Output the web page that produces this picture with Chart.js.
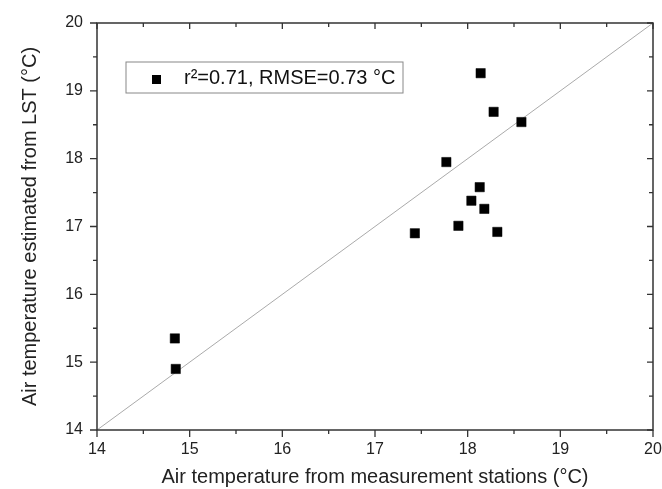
<!DOCTYPE html>
<html>
<head>
<meta charset="utf-8">
<script src="https://cdn.jsdelivr.net/npm/chart.js@4/dist/chart.umd.min.js"></script>
<style>
  html, body { margin: 0; padding: 0; background: #fff; }
  #wrap { width: 662px; height: 489px; }
</style>
</head>
<body>
<div id="wrap"><canvas id="c" width="662" height="489"></canvas></div>
<script>
// measured station temperature vs. temperature estimated from LST
const stationTemp = [14.84, 14.85, 17.43, 17.77, 17.90, 18.04, 18.13, 18.14, 18.18, 18.28, 18.32, 18.58];
const lstTemp     = [15.35, 14.90, 16.90, 17.95, 17.01, 17.38, 17.58, 19.26, 17.26, 18.69, 16.92, 18.54];
const oneToOne = [14, 20];
const axisMin = 14, axisMax = 20;
const legendLabel = "r\u00B2=0.71, RMSE=0.73 \u00B0C";
const xTitle = "Air temperature from measurement stations (\u00B0C)";
const yTitle = "Air temperature estimated from LST (\u00B0C)";

const font = "'Liberation Sans', Arial, sans-serif";

const points = stationTemp.map((x, i) => ({ x: x, y: lstTemp[i] }));
const line = oneToOne.map(v => ({ x: v, y: v }));

// frame with ticks on all four sides (outward bottom/left, inward top/right)
const framePlugin = {
  id: "frame",
  afterDraw(chart) {
    const { ctx, chartArea: a, scales } = chart;
    const xs = scales.x, ys = scales.y;
    ctx.save();
    ctx.strokeStyle = "#333";
    ctx.lineWidth = 1.5;
    ctx.strokeRect(a.left, a.top, a.right - a.left, a.bottom - a.top);
    ctx.lineWidth = 1.3;
    ctx.beginPath();
    for (let v = axisMin; v <= axisMax + 1e-9; v += 0.5) {
      const major = Math.abs(v - Math.round(v)) < 1e-9;
      const out = major ? 7 : 4;
      const inn = major ? 6 : 4;
      const px = xs.getPixelForValue(v);
      const py = ys.getPixelForValue(v);
      ctx.moveTo(px, a.bottom); ctx.lineTo(px, a.bottom + out);
      ctx.moveTo(px, a.top); ctx.lineTo(px, a.top + inn);
      ctx.moveTo(a.left, py); ctx.lineTo(a.left - out, py);
      ctx.moveTo(a.right, py); ctx.lineTo(a.right - inn, py);
    }
    ctx.stroke();

    // legend box
    const bx = a.left + 29, by = a.top + 39, bw = 277, bh = 31;
    ctx.strokeStyle = "#888";
    ctx.lineWidth = 1;
    ctx.strokeRect(bx, by, bw, bh);
    ctx.fillStyle = "#000";
    ctx.fillRect(bx + 26, by + 13, 9, 9);
    ctx.font = "20px " + font;
    ctx.textBaseline = "middle";
    ctx.fillStyle = "#111";
    ctx.fillText(chart.data.datasets[0].label, bx + 58, by + bh / 2 + 1);
    ctx.restore();
  }
};

new Chart(document.getElementById("c"), {
  type: "scatter",
  data: {
    datasets: [
      {
        label: legendLabel,
        data: points,
        pointStyle: "rect",
        pointRadius: 6.6,
        pointHoverRadius: 6.6,
        backgroundColor: "#000",
        borderColor: "#000",
        borderWidth: 0.5,
        order: 1
      },
      {
        label: "1:1",
        type: "line",
        data: line,
        borderColor: "#aaa",
        borderWidth: 1,
        pointRadius: 0,
        fill: false,
        order: 2
      }
    ]
  },
  options: {
    responsive: false,
    animation: false,
    events: [],
    layout: { padding: { top: 23, right: 9, bottom: 0, left: 0 } },
    plugins: {
      legend: { display: false },
      tooltip: { enabled: false }
    },
    scales: {
      x: {
        type: "linear",
        min: axisMin, max: axisMax,
        grid: { display: false, drawTicks: false },
        border: { display: false },
        ticks: { stepSize: 1, padding: 10, color: "#222", font: { family: font, size: 16 } },
        title: { display: true, text: xTitle, color: "#222", font: { family: font, size: 20 }, padding: { top: 4, bottom: 0 } },
        afterFit(s) { s.height = 59; s.paddingRight = 0; s.paddingLeft = 0; }
      },
      y: {
        type: "linear",
        min: axisMin, max: axisMax,
        grid: { display: false, drawTicks: false },
        border: { display: false },
        ticks: { stepSize: 1, padding: 14, color: "#222", font: { family: font, size: 16 } },
        title: { display: true, text: yTitle, color: "#222", font: { family: font, size: 20 }, padding: { top: 18, bottom: 0 } },
        afterFit(s) { s.width = 97; s.paddingTop = 0; s.paddingBottom = 0; }
      }
    }
  },
  plugins: [framePlugin]
});
</script>
</body>
</html>
